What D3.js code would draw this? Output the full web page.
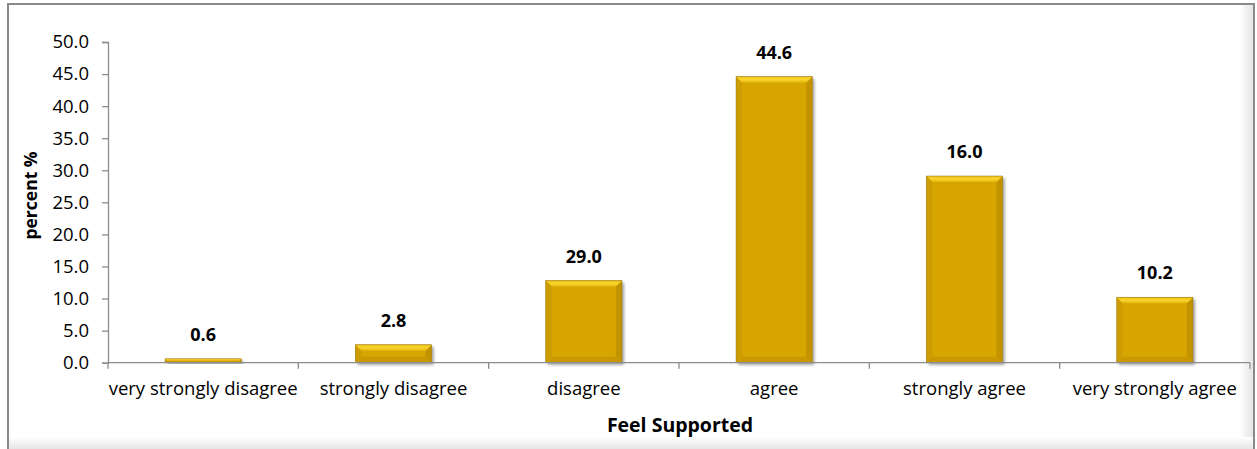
<!DOCTYPE html>
<html><head><meta charset="utf-8">
<script src="https://cdn.jsdelivr.net/npm/d3@7"></script>
<style>
html,body{margin:0;padding:0;background:#fff;}
svg{display:block;font-family:"Open Sans",sans-serif;}
</style></head>
<body><svg id="c" width="1257" height="449"></svg>
<script>
const categories = ["very strongly disagree","strongly disagree","disagree","agree","strongly agree","very strongly agree"];
const values = [0.6, 2.8, 12.8, 44.6, 29.1, 10.2];
const labels = ["0.6","2.8","29.0","44.6","16.0","10.2"];
const yTicks = [0,5,10,15,20,25,30,35,40,45,50];
const xTitle = "Feel Supported";
const yTitle = "percent %";

const svg = d3.select("#c");
const W = 1257, H = 449;
const m = {left:108, right:1250, top:42, bottom:362.7};

const defs = svg.append("defs");
const sh = defs.append("filter").attr("id","shadow").attr("x","-20%").attr("y","-20%").attr("width","150%").attr("height","150%");
sh.append("feDropShadow").attr("dx",2).attr("dy",2).attr("stdDeviation",1.6).attr("flood-color","#000").attr("flood-opacity",0.4);
const bg = defs.append("linearGradient").attr("id","bottomGrad").attr("x1",0).attr("y1",0).attr("x2",0).attr("y2",1);
bg.append("stop").attr("offset","0%").attr("stop-color","#fff");
bg.append("stop").attr("offset","100%").attr("stop-color","#e6e6e6");
const rg = defs.append("linearGradient").attr("id","rightGrad").attr("x1",0).attr("y1",0).attr("x2",1).attr("y2",0);
rg.append("stop").attr("offset","0%").attr("stop-color","#fff");
rg.append("stop").attr("offset","100%").attr("stop-color","#e2e2e2");
const tg = defs.append("linearGradient").attr("id","topBevel").attr("x1",0).attr("y1",0).attr("x2",0).attr("y2",1);
tg.append("stop").attr("offset","0%").attr("stop-color","#F0C21A");
tg.append("stop").attr("offset","50%").attr("stop-color","#F8D52C");
tg.append("stop").attr("offset","100%").attr("stop-color","#E5B50C");

// frame
svg.append("rect").attr("x",1240).attr("y",5).attr("width",14).attr("height",440).attr("fill","url(#rightGrad)");
svg.append("rect").attr("x",9).attr("y",437).attr("width",1245).attr("height",12).attr("fill","url(#bottomGrad)");
svg.append("path").attr("d",`M8,${H+5} L8,4 L1254,4 L1254,${H+5}`).attr("fill","none").attr("stroke","#8a8a8a").attr("stroke-width",2);

const x = d3.scaleBand().domain(categories).range([m.left, m.right]).paddingInner(0.6).paddingOuter(0.3);
const y = d3.scaleLinear().domain([0,50]).range([m.bottom, m.top]);

// y axis
const ya = svg.append("g").attr("transform",`translate(${m.left},0)`)
  .call(d3.axisLeft(y).tickValues(yTicks).tickFormat(d3.format(".1f")).tickSize(6).tickPadding(13));
ya.select(".domain").attr("stroke","#8c8c8c").attr("stroke-width",1.3);
ya.selectAll(".tick line").attr("stroke","#8c8c8c").attr("stroke-width",1.3);
ya.selectAll(".tick text").attr("font-family","Open Sans").attr("font-size",18.5).attr("fill","#000");

// bars
const bev = 6;
const bars = svg.append("g");
categories.forEach((c,i)=>{
  const x0 = x(c), w = x.bandwidth(), y0 = y(values[i]), y1 = y(0);
  const h = y1 - y0;
  const g = bars.append("g");
  g.append("rect").attr("x",x0).attr("y",y0).attr("width",w).attr("height",h).attr("fill","#D7A502").attr("filter","url(#shadow)");
  const b = Math.min(bev, h/2);
  g.append("polygon").attr("points",`${x0},${y0} ${x0+b},${y0+b} ${x0+b},${y1-b} ${x0},${y1}`).attr("fill","#CC9C02");
  g.append("polygon").attr("points",`${x0+w},${y0} ${x0+w-b},${y0+b} ${x0+w-b},${y1-b} ${x0+w},${y1}`).attr("fill","#C29300");
  g.append("polygon").attr("points",`${x0},${y1} ${x0+b},${y1-b} ${x0+w-b},${y1-b} ${x0+w},${y1}`).attr("fill","#C89900");
  g.append("polygon").attr("points",`${x0},${y0} ${x0+w},${y0} ${x0+w-b},${y0+b} ${x0+b},${y0+b}`).attr("fill","url(#topBevel)");
  g.append("rect").attr("x",x0).attr("y",y0).attr("width",w).attr("height",h).attr("fill","none").attr("stroke","#a08020").attr("stroke-width",0.6);
  svg.append("text").attr("x",x0+w/2).attr("y",y0-18).attr("text-anchor","middle")
    .attr("font-family","Open Sans").attr("font-weight","bold").attr("font-size",18).attr("fill","#000").text(labels[i]);
});

// x axis
const step = x.step();
const xa = svg.append("g");
xa.append("line").attr("x1",m.left).attr("x2",m.right).attr("y1",y(0)).attr("y2",y(0)).attr("stroke","#8c8c8c").attr("stroke-width",1.3);
d3.range(categories.length+1).forEach(i=>{
  const tx = m.left + i*step;
  xa.append("line").attr("x1",tx).attr("x2",tx).attr("y1",y(0)).attr("y2",y(0)+6).attr("stroke","#8c8c8c").attr("stroke-width",1.3);
});
categories.forEach(c=>{
  xa.append("text").attr("x",x(c)+x.bandwidth()/2).attr("y",395).attr("text-anchor","middle")
    .attr("font-family","Open Sans").attr("font-size",18.5).attr("fill","#000").text(c);
});

svg.append("text").attr("x",680).attr("y",432).attr("text-anchor","middle")
  .attr("font-family","Open Sans").attr("font-weight","bold").attr("font-size",19.5).text(xTitle);
svg.append("text").attr("transform",`translate(37,195.5) rotate(-90)`).attr("text-anchor","middle")
  .attr("font-family","Open Sans").attr("font-weight","bold").attr("font-size",17.5).text(yTitle);
</script></body></html>
